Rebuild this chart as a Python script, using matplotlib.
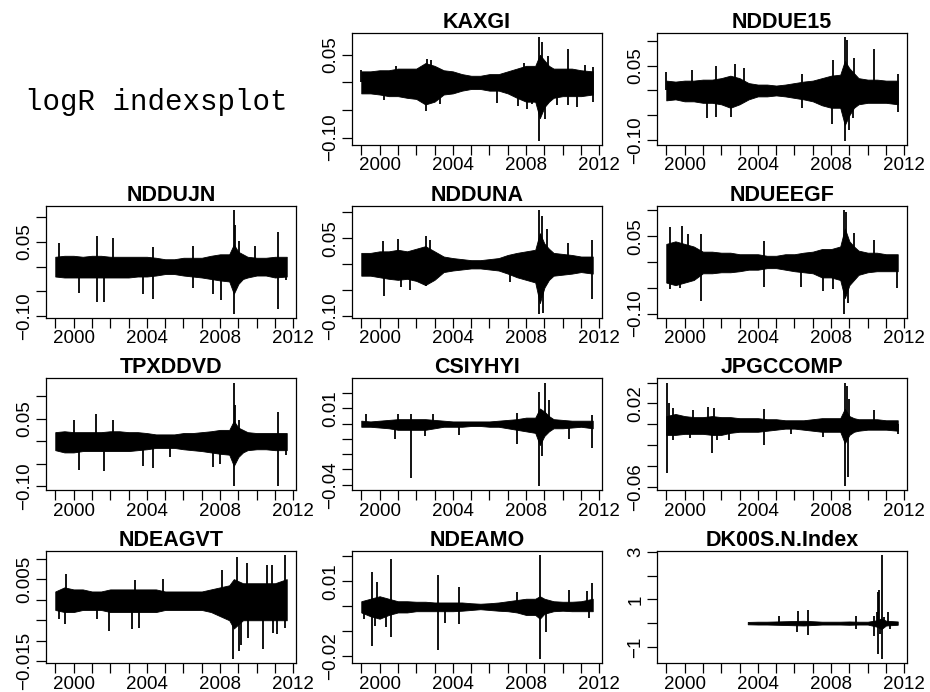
"""
logR indexsplot: daily log-return panels, redrawn from band envelopes and spikes
read off the reference picture.
"""

import matplotlib
matplotlib.use("Agg")
import matplotlib.pyplot as plt

plt.rcParams["font.family"] = ["Liberation Sans", "DejaVu Sans"]

# shared time grid for the dense band (decimal years)
grid_years = [1999.0, 1999.5, 2000.0, 2000.5, 2001.0, 2001.5, 2002.0, 2002.5,
              2003.0, 2003.5, 2004.0, 2004.5, 2005.0, 2005.5, 2006.0, 2006.5,
              2007.0, 2007.5, 2008.0, 2008.5, 2008.75, 2009.0, 2009.25, 2009.5,
              2010.0, 2010.5, 2011.0, 2011.64]

# ---- KAXGI
kaxgi_hi = [0.02, 0.02, 0.022, 0.022, 0.025, 0.025, 0.025, 0.035, 0.03, 0.022, 0.02, 0.015, 0.012, 0.012,
            0.015, 0.015, 0.02, 0.025, 0.03, 0.03, 0.05, 0.04, 0.03, 0.025, 0.025, 0.025, 0.022, 0.02]
kaxgi_lo = [-0.02, -0.02, -0.022, -0.025, -0.025, -0.028, -0.03, -0.04, -0.035, -0.022, -0.02, -0.015, -0.012, -0.012,
            -0.015, -0.015, -0.02, -0.028, -0.035, -0.035, -0.065, -0.045, -0.035, -0.028, -0.025, -0.025, -0.025, -0.022]
kaxgi_spike_years = [1999.0, 2000.22, 2000.9, 2001.67, 2002.55, 2002.6, 2002.8, 2003.3, 2006.4, 2007.58, 2007.9,
                     2008.04, 2008.3, 2008.73, 2008.73, 2008.85, 2009.04, 2009.22, 2009.67, 2010.31, 2010.31,
                     2010.8, 2011.2, 2011.64, 2011.64]
kaxgi_spike_vals = [0.022, -0.032, 0.03, -0.028, -0.052, 0.042, 0.04, -0.04, -0.038, -0.043, 0.035,
                    -0.048, -0.04, 0.082, -0.106, 0.074, -0.066, 0.047, -0.041, 0.061, -0.041,
                    -0.045, 0.032, -0.035, 0.027]

# ---- NDDUE15
nddue15_hi = [0.02, 0.018, 0.02, 0.02, 0.022, 0.022, 0.025, 0.03, 0.025, 0.015, 0.012, 0.012, 0.01, 0.012,
              0.015, 0.018, 0.02, 0.025, 0.03, 0.032, 0.06, 0.045, 0.035, 0.025, 0.022, 0.022, 0.02, 0.02]
nddue15_lo = [-0.02, -0.018, -0.022, -0.022, -0.025, -0.025, -0.028, -0.035, -0.028, -0.018, -0.012, -0.012, -0.01, -0.012,
              -0.015, -0.018, -0.022, -0.03, -0.035, -0.035, -0.07, -0.05, -0.035, -0.028, -0.025, -0.025, -0.025, -0.028]
nddue15_spike_years = [1999.0, 2000.42, 2001.22, 2001.73, 2001.69, 2002.55, 2002.78, 2003.22, 2006.42, 2006.42,
                       2008.09, 2008.05, 2008.78, 2008.85, 2008.78, 2008.96, 2009.27, 2009.18, 2010.36,
                       2011.64, 2011.64]
nddue15_spike_vals = [0.037, 0.042, -0.055, 0.05, -0.053, -0.054, 0.053, 0.045, -0.036, 0.033,
                      0.062, -0.068, 0.108, 0.103, -0.102, -0.08, 0.066, -0.056, 0.084,
                      -0.044, 0.033]

# ---- NDDUJN
nddujn_hi = [0.02, 0.022, 0.022, 0.02, 0.022, 0.022, 0.02, 0.02, 0.02, 0.02, 0.02, 0.018, 0.015, 0.015,
             0.018, 0.018, 0.018, 0.022, 0.025, 0.025, 0.045, 0.03, 0.025, 0.02, 0.018, 0.018, 0.02, 0.02]
nddujn_lo = [-0.02, -0.022, -0.022, -0.022, -0.022, -0.022, -0.022, -0.022, -0.022, -0.02, -0.02, -0.018, -0.015, -0.015,
             -0.018, -0.02, -0.022, -0.025, -0.028, -0.03, -0.055, -0.035, -0.025, -0.022, -0.018, -0.018, -0.022, -0.02]
nddujn_spike_years = [1999.18, 2000.31, 2001.27, 2001.27, 2001.67, 2002.15, 2003.78, 2004.36, 2004.36, 2006.5,
                      2006.5, 2007.64, 2008.04, 2008.77, 2008.77, 2008.84, 2009.05, 2009.9, 2011.18, 2011.18,
                      2011.6]
nddujn_spike_vals = [0.047, -0.053, 0.062, -0.072, -0.071, 0.057, -0.056, 0.039, -0.065, 0.041,
                     -0.043, -0.056, -0.068, 0.115, -0.095, 0.084, 0.052, 0.042, 0.071, -0.085,
                     -0.028]

# ---- NDDUNA
ndduna_hi = [0.022, 0.022, 0.025, 0.025, 0.028, 0.025, 0.03, 0.035, 0.025, 0.015, 0.012, 0.01, 0.008, 0.008,
             0.01, 0.012, 0.018, 0.022, 0.025, 0.028, 0.06, 0.04, 0.03, 0.022, 0.02, 0.018, 0.015, 0.015]
ndduna_lo = [-0.022, -0.022, -0.025, -0.028, -0.03, -0.028, -0.032, -0.04, -0.03, -0.015, -0.012, -0.01, -0.008, -0.008,
             -0.01, -0.012, -0.018, -0.025, -0.03, -0.035, -0.075, -0.045, -0.03, -0.022, -0.02, -0.018, -0.015, -0.018]
ndduna_spike_years = [2000.18, 2000.25, 2000.98, 2001.16, 2001.67, 2002.55, 2002.55, 2002.76, 2007.13, 2008.73,
                      2008.73, 2008.85, 2008.91, 2009.16, 2010.31, 2011.58, 2011.58]
ndduna_spike_vals = [0.045, -0.061, 0.048, -0.043, -0.05, 0.055, -0.042, 0.047, -0.034, 0.105,
                     -0.095, 0.094, -0.094, 0.068, 0.042, 0.046, -0.066]

# ---- NDUEEGF
ndueegf_hi = [0.035, 0.04, 0.035, 0.03, 0.02, 0.02, 0.018, 0.018, 0.015, 0.015, 0.015, 0.012, 0.012, 0.015,
              0.015, 0.018, 0.02, 0.025, 0.025, 0.03, 0.065, 0.04, 0.03, 0.022, 0.018, 0.018, 0.015, 0.015]
ndueegf_lo = [-0.04, -0.045, -0.04, -0.035, -0.022, -0.022, -0.02, -0.02, -0.018, -0.015, -0.015, -0.012, -0.012, -0.015,
              -0.018, -0.02, -0.022, -0.03, -0.03, -0.035, -0.07, -0.045, -0.035, -0.025, -0.02, -0.018, -0.018, -0.018]
ndueegf_spike_years = [1999.22, 1999.22, 1999.87, 1999.76, 2000.18, 2000.91, 2000.91, 2004.36, 2004.36, 2006.36,
                       2007.58, 2008.09, 2008.73, 2008.73, 2008.82, 2008.93, 2009.27, 2010.36, 2011.6]
ndueegf_spike_vals = [0.067, -0.052, 0.069, -0.05, 0.054, 0.054, -0.076, 0.041, -0.048, -0.048,
                      -0.056, -0.052, 0.101, -0.1, 0.097, -0.079, 0.056, 0.043, -0.05]

# ---- TPXDDVD
tpxddvd_hi = [0.02, 0.022, 0.02, 0.02, 0.02, 0.02, 0.022, 0.022, 0.02, 0.02, 0.018, 0.015, 0.015, 0.015,
              0.018, 0.018, 0.02, 0.022, 0.025, 0.025, 0.045, 0.03, 0.025, 0.02, 0.018, 0.018, 0.018, 0.018]
tpxddvd_lo = [-0.02, -0.025, -0.025, -0.022, -0.022, -0.022, -0.022, -0.022, -0.022, -0.02, -0.018, -0.015, -0.015, -0.015,
              -0.018, -0.02, -0.022, -0.025, -0.028, -0.03, -0.055, -0.035, -0.025, -0.02, -0.018, -0.018, -0.02, -0.02]
tpxddvd_spike_years = [2000.0, 2000.27, 2001.22, 2001.67, 2002.18, 2003.78, 2004.33, 2005.27, 2007.6, 2008.0,
                       2008.76, 2008.76, 2008.84, 2009.05, 2011.18, 2011.18, 2011.6]
tpxddvd_spike_vals = [0.048, -0.063, 0.061, -0.067, 0.047, -0.056, -0.059, -0.036, -0.057, -0.051,
                      0.13, -0.1, 0.08, 0.048, 0.065, -0.1, -0.031]

# ---- CSIYHYI
csiyhyi_hi = [0.002, 0.0015, 0.002, 0.0025, 0.003, 0.003, 0.003, 0.003, 0.0025, 0.002, 0.0015, 0.0015, 0.0015, 0.0015,
              0.0015, 0.002, 0.0025, 0.003, 0.004, 0.004, 0.01, 0.008, 0.005, 0.003, 0.0025, 0.002, 0.002, 0.002]
csiyhyi_lo = [-0.002, -0.002, -0.0025, -0.003, -0.004, -0.004, -0.004, -0.004, -0.003, -0.002, -0.002, -0.002, -0.0015, -0.0015,
              -0.002, -0.002, -0.003, -0.004, -0.005, -0.006, -0.014, -0.008, -0.005, -0.003, -0.003, -0.0025, -0.002, -0.003]
csiyhyi_spike_years = [1999.25, 2000.85, 2000.98, 2001.71, 2001.71, 2002.49, 2002.91, 2004.31, 2007.53, 2007.53,
                       2008.73, 2008.73, 2008.85, 2009.04, 2009.27, 2010.36, 2011.58, 2011.58]
csiyhyi_spike_vals = [0.0062, -0.0099, 0.0062, -0.0356, 0.0066, -0.0081, 0.0062, -0.0073, 0.007, -0.013,
                      0.021, -0.041, -0.021, 0.027, 0.0154, -0.0099, -0.016, 0.0055]

# ---- JPGCCOMP
jpgccomp_hi = [0.008, 0.01, 0.008, 0.007, 0.007, 0.008, 0.007, 0.007, 0.006, 0.006, 0.006, 0.005, 0.005, 0.004,
               0.004, 0.004, 0.005, 0.006, 0.006, 0.006, 0.015, 0.008, 0.006, 0.005, 0.005, 0.005, 0.004, 0.004]
jpgccomp_lo = [-0.01, -0.01, -0.009, -0.009, -0.009, -0.01, -0.01, -0.008, -0.007, -0.007, -0.007, -0.006, -0.005, -0.004,
               -0.004, -0.005, -0.006, -0.007, -0.007, -0.007, -0.018, -0.01, -0.007, -0.006, -0.005, -0.005, -0.005, -0.006]
jpgccomp_spike_years = [1999.02, 1999.02, 1999.15, 1999.36, 1999.36, 2000.27, 2000.45, 2001.27, 2001.51, 2001.58,
                        2001.76, 2002.42, 2004.36, 2004.36, 2005.82, 2007.55, 2008.78, 2008.78, 2008.87, 2008.91,
                        2009.0, 2010.36, 2011.64]
jpgccomp_spike_vals = [0.04, -0.046, 0.02, 0.016, -0.015, -0.013, 0.0135, 0.017, -0.027, 0.016,
                       -0.015, -0.015, 0.015, -0.0197, -0.0094, -0.0116, 0.04, -0.059, 0.037, -0.05,
                       0.024, 0.0135, -0.009]

# ---- NDEAGVT
ndeagvt_hi = [0.002, 0.003, 0.0025, 0.0025, 0.002, 0.002, 0.0025, 0.0025, 0.0025, 0.0025, 0.0025, 0.0025, 0.002, 0.002,
              0.002, 0.002, 0.002, 0.0025, 0.003, 0.0035, 0.005, 0.0045, 0.004, 0.004, 0.004, 0.004, 0.004, 0.005]
ndeagvt_lo = [-0.0025, -0.003, -0.003, -0.0025, -0.0025, -0.0025, -0.003, -0.003, -0.003, -0.003, -0.003, -0.003, -0.0025, -0.0025,
              -0.0025, -0.0025, -0.0025, -0.003, -0.004, -0.005, -0.007, -0.006, -0.005, -0.005, -0.005, -0.005, -0.005, -0.005]
ndeagvt_spike_years = [1999.18, 1999.55, 1999.6, 2001.27, 2001.91, 2003.18, 2003.36, 2003.55, 2004.91, 2008.09,
                       2008.73, 2008.91, 2009.05, 2009.13, 2009.45, 2009.55, 2010.36, 2010.55, 2010.82, 2010.91,
                       2011.09, 2011.55, 2011.55]
ndeagvt_spike_vals = [-0.0048, -0.006, 0.0063, -0.0048, -0.0076, -0.0072, 0.0048, -0.0068, 0.0051, 0.0071,
                      -0.0144, 0.0104, -0.0125, -0.011, 0.0089, -0.0093, -0.012, 0.0084, 0.0084, -0.008,
                      -0.0084, 0.0108, -0.0068]

# ---- NDEAMO
ndeamo_hi = [0.002, 0.003, 0.004, 0.003, 0.002, 0.002, 0.0018, 0.0018, 0.0015, 0.0015, 0.0015, 0.0015, 0.0012, 0.001,
             0.0012, 0.0015, 0.002, 0.0025, 0.003, 0.003, 0.004, 0.003, 0.0025, 0.002, 0.0018, 0.0018, 0.002, 0.003]
ndeamo_lo = [-0.0025, -0.004, -0.005, -0.0035, -0.0025, -0.0025, -0.002, -0.002, -0.002, -0.002, -0.002, -0.0018, -0.0015, -0.0012,
             -0.0015, -0.0018, -0.002, -0.0025, -0.0035, -0.0035, -0.005, -0.003, -0.0025, -0.002, -0.0018, -0.002, -0.002, -0.002]
ndeamo_spike_years = [1999.16, 1999.58, 1999.58, 1999.76, 1999.85, 2000.36, 2000.62, 2000.62, 2003.18, 2003.18,
                      2003.58, 2004.36, 2004.36, 2007.49, 2008.76, 2008.76, 2009.09, 2010.36, 2011.31, 2011.45,
                      2011.58]
ndeamo_spike_vals = [-0.0053, 0.0136, -0.0161, -0.008, 0.0096, -0.0084, 0.019, -0.0124, 0.0123, -0.0174,
                     -0.0066, 0.0078, -0.007, 0.0055, 0.0204, -0.0211, -0.0103, 0.0065, 0.0062, -0.0046,
                     0.0092]

# ---- DK00S.N.Index (series starts in 2003)
dk00s_years = [2003.45, 2004.0, 2004.5, 2005.0, 2005.5, 2006.0, 2006.5, 2007.0, 2007.5, 2008.0, 2008.5,
               2009.0, 2009.5, 2010.0, 2010.5, 2010.75, 2011.0, 2011.64]
dk00s_hi = [0.05, 0.06, 0.06, 0.07, 0.08, 0.09, 0.1, 0.08, 0.06, 0.06, 0.06, 0.07, 0.06, 0.06, 0.12, 0.2, 0.1, 0.07]
dk00s_lo = [-0.05, -0.06, -0.06, -0.07, -0.08, -0.09, -0.1, -0.08, -0.06, -0.06, -0.06, -0.07, -0.06, -0.06, -0.15,
            -0.25, -0.1, -0.07]
dk00s_spike_years = [2005.15, 2006.13, 2006.18, 2006.76, 2006.76, 2009.36, 2009.36, 2010.36, 2010.36, 2010.49,
                     2010.55, 2010.55, 2010.62, 2010.69, 2010.78, 2010.78, 2010.91, 2011.09, 2011.22]
dk00s_spike_vals = [0.32, -0.38, 0.5, 0.56, -0.48, 0.32, -0.24, 0.28, -0.56, 0.46,
                    1.31, -1.3, 1.38, -0.45, 2.86, -1.51, 0.25, 0.46, -0.24]

# y ticks and which of them carry a label (R drops overlapping ones)
ret_ticks = [-0.10, -0.05, 0.0, 0.05, 0.10]
ret_labels = ["\u22120.10", "", "", "0.05", ""]
csiyhyi_ticks = [-0.04, -0.03, -0.02, -0.01, 0.0, 0.01, 0.02]
csiyhyi_labels = ["\u22120.04", "", "", "", "", "0.01", ""]
jpgccomp_ticks = [-0.06, -0.04, -0.02, 0.0, 0.02, 0.04]
jpgccomp_labels = ["\u22120.06", "", "", "", "0.02", ""]
ndeagvt_ticks = [-0.015, -0.010, -0.005, 0.0, 0.005, 0.010]
ndeagvt_labels = ["\u22120.015", "", "", "", "0.005", ""]
ndeamo_ticks = [-0.02, -0.01, 0.0, 0.01, 0.02]
ndeamo_labels = ["\u22120.02", "", "", "0.01", ""]
dk00s_ticks = [-1, 0, 1, 2, 3]
dk00s_labels = ["\u22121", "", "1", "", "3"]

year_ticks = list(range(1999, 2013))
year_labels = ["", "2000", "", "", "", "2004", "", "", "", "2008", "", "", "", "2012"]

panels = [
    ("KAXGI", grid_years, kaxgi_hi, kaxgi_lo, kaxgi_spike_years, kaxgi_spike_vals,
     ret_ticks[:4], ret_labels[:4]),
    ("NDDUE15", grid_years, nddue15_hi, nddue15_lo, nddue15_spike_years, nddue15_spike_vals,
     ret_ticks, ret_labels),
    ("NDDUJN", grid_years, nddujn_hi, nddujn_lo, nddujn_spike_years, nddujn_spike_vals,
     ret_ticks, ret_labels),
    ("NDDUNA", grid_years, ndduna_hi, ndduna_lo, ndduna_spike_years, ndduna_spike_vals,
     ret_ticks, ret_labels),
    ("NDUEEGF", grid_years, ndueegf_hi, ndueegf_lo, ndueegf_spike_years, ndueegf_spike_vals,
     ret_ticks, ret_labels),
    ("TPXDDVD", grid_years, tpxddvd_hi, tpxddvd_lo, tpxddvd_spike_years, tpxddvd_spike_vals,
     ret_ticks, ret_labels),
    ("CSIYHYI", grid_years, csiyhyi_hi, csiyhyi_lo, csiyhyi_spike_years, csiyhyi_spike_vals,
     csiyhyi_ticks, csiyhyi_labels),
    ("JPGCCOMP", grid_years, jpgccomp_hi, jpgccomp_lo, jpgccomp_spike_years, jpgccomp_spike_vals,
     jpgccomp_ticks, jpgccomp_labels),
    ("NDEAGVT", grid_years, ndeagvt_hi, ndeagvt_lo, ndeagvt_spike_years, ndeagvt_spike_vals,
     ndeagvt_ticks, ndeagvt_labels),
    ("NDEAMO", grid_years, ndeamo_hi, ndeamo_lo, ndeamo_spike_years, ndeamo_spike_vals,
     ndeamo_ticks, ndeamo_labels),
    ("DK00S.N.Index", dk00s_years, dk00s_hi, dk00s_lo, dk00s_spike_years, dk00s_spike_vals,
     dk00s_ticks, dk00s_labels),
]

W, H = 930, 692
fig = plt.figure(figsize=(W / 100, H / 100), dpi=100)

# R pads the data range by 4 % on each side
x_min, x_max = grid_years[0], grid_years[-1]
x_pad = 0.04 * (x_max - x_min)

col_left = [46, 352, 657]
box_w, box_h = 250, 112

fig.text(156 / W, 1 - 110 / H, "logR indexsplot", family=["Liberation Mono", "DejaVu Sans Mono"],
         fontsize=21, ha="center", va="baseline")

for pos, (name, yrs, hi, lo, sp_x, sp_y, yt, yl) in enumerate(panels, start=1):
    r, c = divmod(pos, 3)
    top = 33 + r * 172.7
    ax = fig.add_axes([col_left[c] / W, 1 - (top + box_h) / H, box_w / W, box_h / H])

    ax.fill_between(yrs, lo, hi, color="black", linewidth=0.6)
    ax.vlines(sp_x, 0, sp_y, color="black", linewidth=1.3)

    y_lo = min(min(lo), min(sp_y))
    y_hi = max(max(hi), max(sp_y))
    y_pad = 0.04 * (y_hi - y_lo)
    ax.set_ylim(y_lo - y_pad, y_hi + y_pad)
    ax.set_xlim(x_min - x_pad, x_max + x_pad)

    ax.set_xticks(year_ticks)
    ax.set_xticklabels(year_labels)
    ax.set_yticks(yt)
    ax.set_yticklabels(yl, rotation=90, va="center")

    ax.tick_params(direction="out", length=7, width=0.9, labelsize=13.5, pad=2,
                   top=False, right=False)
    for s in ax.spines.values():
        s.set_linewidth(0.9)
    ax.set_title(name, fontsize=15.5, fontweight="bold", pad=3.5)

fig.savefig("out.png", dpi=100)
